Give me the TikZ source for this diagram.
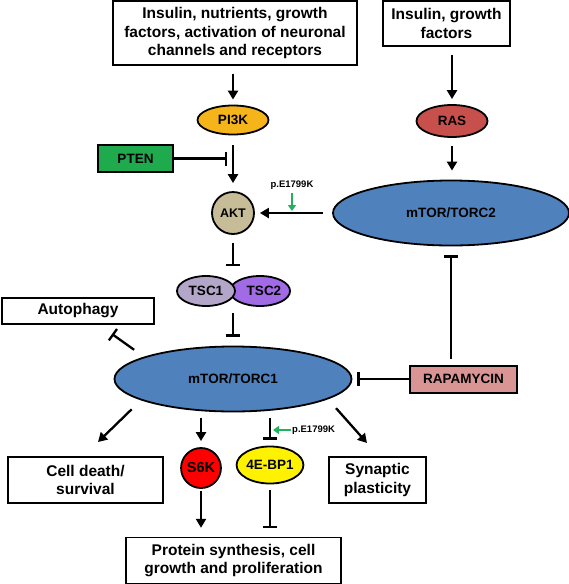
\documentclass[tikz,border=0pt]{standalone}
\usepackage{fontspec}
\setmainfont{Liberation Sans}
\usetikzlibrary{shapes.geometric,arrows.meta}

\definecolor{pikcol}{HTML}{F5B51A}
\definecolor{ptencol}{HTML}{1FAA4E}
\definecolor{aktcol}{HTML}{C6BC97}
\definecolor{rascol}{HTML}{C8504C}
\definecolor{mtorcol}{HTML}{4F81BD}
\definecolor{tscacol}{HTML}{B4A6C9}
\definecolor{tscbcol}{HTML}{A16BE6}
\definecolor{rapacol}{HTML}{D99594}
\definecolor{mutgreen}{HTML}{1FB25A}

\tikzset{
  box/.style={draw, line width=1.4pt, fill=white, align=center, inner sep=0pt,
    font=\fontsize{15.5}{18.5}\selectfont\bfseries},
  mol/.style={ellipse, draw, line width=1.8pt, inner sep=0pt,
    font=\fontsize{13.5}{15}\selectfont\bfseries},
  drug/.style={draw, line width=2pt, inner sep=0pt,
    font=\fontsize{13.5}{15}\selectfont\bfseries},
  act/.style={line width=2.3pt, -{Triangle[width=10pt,length=9pt]}},
  inh/.style={line width=2.3pt, -{Bar[width=14pt]}},
  mut/.style={inner sep=0pt, font=\fontsize{9.5}{11}\selectfont\bfseries},
  mutarr/.style={draw=mutgreen, line width=2.5pt, -{Triangle[width=8pt,length=6pt]}},
}

\begin{document}
\begin{tikzpicture}[x=1pt,y=-1pt]
\useasboundingbox (0,0) rectangle (569,584);

% input boxes
\node[box, minimum width=244pt, minimum height=64pt] (top) at (235,33)
  {Insulin, nutrients, growth\\factors, activation of neuronal\\channels and receptors};
\node[box, minimum width=127pt, minimum height=45pt] (topr) at (446.5,23.5)
  {Insulin, growth\\factors};

% left branch
\node[mol, fill=pikcol, minimum width=71pt, minimum height=29pt] (pi3k) at (233,120) {PI3K};
\node[drug, fill=ptencol, minimum width=75pt, minimum height=27pt] (pten) at (135.5,158.5) {PTEN};
\node[mol, fill=aktcol, minimum width=42pt, minimum height=42pt,
  font=\fontsize{12.5}{14}\selectfont\bfseries] (akt) at (233,213) {AKT};
\node[mol, fill=tscbcol, minimum width=56pt, minimum height=30pt] (tsc2) at (260,291) {\hspace*{8pt}TSC2};
\node[mol, fill=tscacol, minimum width=58pt, minimum height=30pt] (tsc1) at (206,291) {TSC1};

% right branch
\node[mol, fill=rascol, minimum width=71pt, minimum height=32pt] (ras) at (452,121) {RAS};
\node[mol, fill=mtorcol, minimum width=236pt, minimum height=65pt] (torc2) at (451,213) {mTOR/TORC2};
\node[drug, fill=rapacol, minimum width=107pt, minimum height=27pt] (rapa) at (463.5,379) {RAPAMYCIN};

% mTORC1 and outputs
\node[mol, fill=mtorcol, minimum width=237pt, minimum height=65pt] (torc1) at (233,379) {mTOR/TORC1};
\node[box, minimum width=152pt, minimum height=26pt] (auto) at (78,311) {Autophagy};
\node[box, minimum width=155pt, minimum height=46pt] (death) at (85.5,480) {Cell death/\\survival};
\node[box, minimum width=97pt, minimum height=46pt] (syn) at (377.5,480) {Synaptic\\plasticity};
\node[mol, fill=red, minimum width=39pt, minimum height=40pt,
  font=\fontsize{14.5}{16}\selectfont\bfseries] (s6k) at (201,468) {S6K};
\node[mol, fill=yellow, minimum width=64pt, minimum height=37pt] (bp) at (270,465) {4E-BP1};
\node[box, minimum width=215pt, minimum height=46pt] (prot) at (233.5,560.5)
  {Protein synthesis, cell\\growth and proliferation};

% mutation labels
\node[mut] (mut1) at (292,185) {p.E1799K};
\node[mut, anchor=west] (mut2) at (292,430) {p.E1799K};

\coordinate (ptenbar) at (227,158.5);
\coordinate (autobar) at (112,334);
\coordinate (deathtip) at (98,442);
\coordinate (syntip) at (367,443);
\coordinate (mut1tip) at (292,211);
\coordinate (mut2tip) at (273,430);

% connectors
\draw[act, shorten <=8pt, shorten >=5pt] (pi3k |- top.south) -- (pi3k.north);
\draw[act, shorten <=10pt, shorten >=8pt] (pi3k.south) -- (akt.north);
\draw[inh] (pten) -- (ptenbar);
\draw[act, shorten <=9pt, shorten >=5pt] (torc2.west) -- (akt.east);
\draw[inh, shorten <=8pt, shorten >=9pt] (akt.south) -- (akt |- tsc1.north);
\draw[inh, shorten <=6pt, shorten >=9pt] (akt |- tsc1.south) -- (torc1.north);
\draw[act, shorten <=8pt, shorten >=5pt] (ras |- topr.south) -- (ras.north);
\draw[act, shorten <=8pt, shorten >=9pt] (ras.south) -- (ras |- torc2.north);
\draw[inh, shorten <=6pt, shorten >=9pt] (torc2 |- rapa.north) -- (torc2.south);
\draw[inh, shorten >=5pt] (rapa.west) -- (torc1.east);
\draw[inh, shorten <=12pt] (torc1.166) -- (autobar);
\draw[act, shorten <=13pt] (torc1.193) -- (deathtip);
\draw[act, shorten <=12pt] (torc1.348) -- (syntip);
\draw[act, shorten <=6pt, shorten >=6pt] (s6k |- torc1.south) -- (s6k.north);
\draw[inh, shorten <=6pt, shorten >=6pt] (bp |- torc1.south) -- (bp.north);
\draw[act, shorten <=2pt, shorten >=9pt] (s6k.south) -- (s6k |- prot.north);
\draw[inh, shorten <=6pt, shorten >=9pt] (bp.south) -- (bp |- prot.north);
\draw[mutarr, shorten <=3pt] (mut1.south) -- (mut1tip);
\draw[mutarr, shorten <=1pt] (mut2.west) -- (mut2tip);
\end{tikzpicture}
\end{document}
